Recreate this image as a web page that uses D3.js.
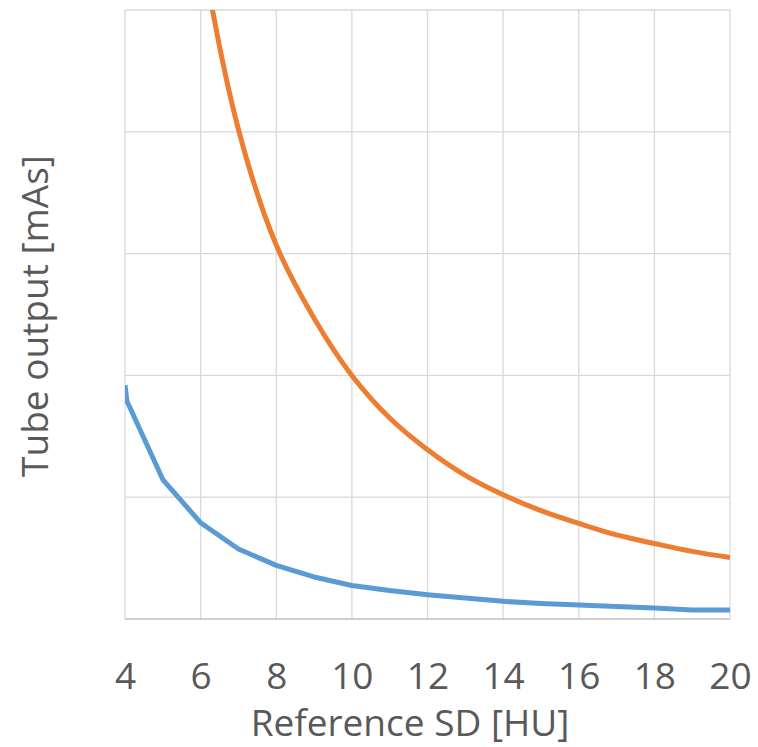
<!DOCTYPE html>
<html>
<head>
<meta charset="utf-8">
<script src="https://cdn.jsdelivr.net/npm/d3@7"></script>
<style>
  body { margin: 0; background: #fff; }
  text { font-family: "Open Sans", "Noto Sans", sans-serif; fill: #595959; }
</style>
</head>
<body>
<div id="chart"></div>
<script>
// Reference SD values [HU]
const sdBlue = [4, 4.05, 5, 6, 7, 8, 9, 10, 11, 12, 13, 14, 15, 16, 17, 18, 19, 20];
// Tube output (blue series), in grid units
const outBlue = [1.92, 1.79, 1.145, 0.79, 0.575, 0.44, 0.345, 0.275, 0.234, 0.2, 0.172, 0.145, 0.127, 0.115, 0.103, 0.09, 0.074, 0.074];

const sdOrange = [4, 5, 6, 7, 8, 9, 10, 11, 12, 13, 14, 15, 16, 17, 18, 19, 20];
// Tube output (orange series), goes off the top below SD 6.3
const outOrange = [12.5, 8.0, 5.56, 4.02, 3.07, 2.47, 2.0, 1.65, 1.39, 1.18, 1.02, 0.89, 0.785, 0.69, 0.62, 0.555, 0.505];

const xTicks = [4, 6, 8, 10, 12, 14, 16, 18, 20];
const yTicks = [0, 1, 2, 3, 4, 5];

const W = 758, H = 747;
const margin = {top: 10, right: 28, bottom: 128, left: 125};
const width = W - margin.left - margin.right;
const height = H - margin.top - margin.bottom;

const svg = d3.select("#chart").append("svg")
    .attr("width", W)
    .attr("height", H);

const g = svg.append("g")
    .attr("transform", `translate(${margin.left},${margin.top})`);

const x = d3.scaleLinear().domain([4, 20]).range([0, width]);
const y = d3.scaleLinear().domain([0, 5]).range([height, 0]);

// gridlines
g.selectAll(".hgrid")
    .data(yTicks.filter(d => d > 0))
    .enter().append("line")
    .attr("x1", 0).attr("x2", width)
    .attr("y1", d => y(d)).attr("y2", d => y(d))
    .attr("stroke", "#d9d9d9").attr("stroke-width", 1.3);

g.selectAll(".vgrid")
    .data(xTicks)
    .enter().append("line")
    .attr("x1", d => x(d)).attr("x2", d => x(d))
    .attr("y1", 0).attr("y2", height)
    .attr("stroke", "#d9d9d9").attr("stroke-width", 1.3);

// bottom axis line
g.append("line")
    .attr("x1", 0).attr("x2", width)
    .attr("y1", height).attr("y2", height)
    .attr("stroke", "#bfbfbf").attr("stroke-width", 1.5);

// tick labels
const xAxis = g.append("g")
    .attr("transform", `translate(0,${height})`)
    .call(d3.axisBottom(x).tickValues(xTicks).tickSize(0).tickPadding(44));
xAxis.select(".domain").remove();
xAxis.selectAll("text")
    .attr("fill", "#595959")
    .style("font-family", "'Open Sans', 'Noto Sans', sans-serif")
    .style("font-size", "37px");

// clip to plot area
g.append("clipPath").attr("id", "clip")
  .append("rect").attr("x", 0).attr("y", 0).attr("width", width).attr("height", height);

const plot = g.append("g").attr("clip-path", "url(#clip)");

const orangeLine = d3.line()
    .x((d, i) => x(sdOrange[i]))
    .y(d => y(d))
    .curve(d3.curveCatmullRom.alpha(0.5));

plot.append("path")
    .datum(outOrange)
    .attr("d", orangeLine)
    .attr("fill", "none")
    .attr("stroke", "#ed7d31")
    .attr("stroke-width", 5);

const blueLine = d3.line()
    .x((d, i) => x(sdBlue[i]))
    .y(d => y(d));

plot.append("path")
    .datum(outBlue)
    .attr("d", blueLine)
    .attr("fill", "none")
    .attr("stroke", "#5b9bd5")
    .attr("stroke-width", 5)
    .attr("stroke-linejoin", "round");

// axis titles
svg.append("text")
    .attr("x", 410)
    .attr("y", 736)
    .attr("text-anchor", "middle")
    .style("font-size", "37px")
    .text("Reference SD [HU]");

svg.append("text")
    .attr("transform", "translate(48,316) rotate(-90)")
    .attr("text-anchor", "middle")
    .style("font-size", "37px")
    .text("Tube output [mAs]");
</script>
</body>
</html>
